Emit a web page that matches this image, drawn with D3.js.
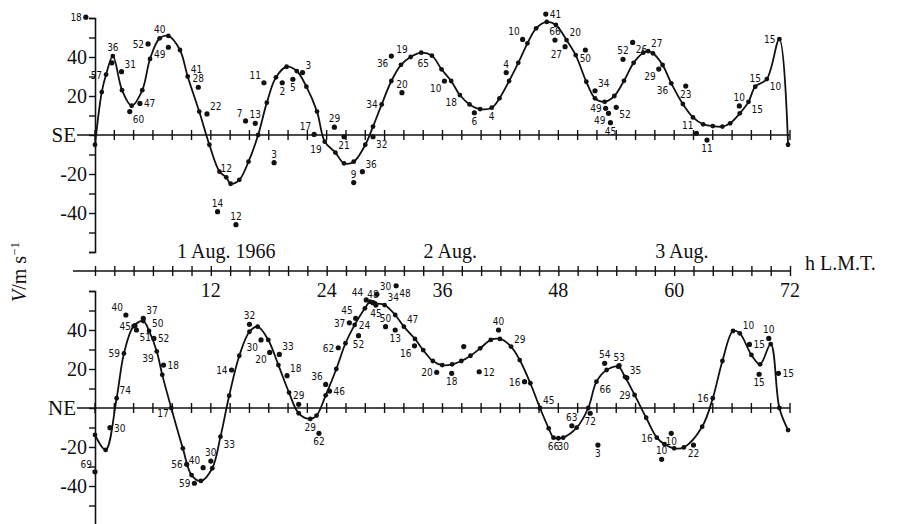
<!DOCTYPE html>
<html>
<head>
<meta charset="utf-8">
<script src="https://cdn.jsdelivr.net/npm/d3@7/dist/d3.min.js"></script>
<style>
body { margin: 0; background: #fff; }
svg { display: block; }
.serif { font-family: "Liberation Serif", "DejaVu Serif", serif; fill: #111; }
.lab { font-family: "DejaVu Sans Condensed", "Liberation Sans Narrow", sans-serif; font-size: 10px; fill: #111; }
</style>
</head>
<body>
<svg width="905" height="524"></svg>
<script>
// hourly curve, SE component
var seCurveHour = [0,0.7,1.15,1.85,2.8,3.8,4.9,5.7,6.7,7.6,8.8,9.6,10.8,11.85,12.9,13.6,14.05,14.95,15.9,16.9,17.8,18.75,19.85,20.9,21.9,23,23.8,24.9,25.8,26.8,28,28.8,29.7,30.7,31.7,32.7,33.8,34.9,35.9,36.9,37.8,38.8,39.9,41.1,41.9,42.9,43.85,44.8,45.7,46.8,47.75,48.85,49.8,50.9,51.8,52.8,53.8,54.8,55.8,56.8,57.3,57.8,58.8,59.7,60.9,61.95,63,64,65,65.8,66.8,67.7,68.4,69.6,70.9,71.8];
var seCurveValue = [-5,22,31,40.5,23,15,23,39,49.6,50.8,43.6,30,12,-5,-18.8,-21.7,-25,-23,-13.7,0,16.6,29.6,35,32.8,24.8,12,-3.4,-9,-14.5,-13.7,-5,4.3,15.7,27.7,36,40,42.2,40.7,33.7,27.7,20.5,15.7,13.3,14,18.8,27.7,37,47,54.7,58,56.4,48.7,41,27.3,18.8,17,20,27.8,37,42.2,43,41.9,35.9,26.5,15.9,9,5.5,4.6,4.3,6,11.1,17,24.8,28.7,49.2,-5];

// individual observations, SE
var seObsHour  = [-0.95,1.75,2.75,3.6,4.65,5.5,7.6,10.7,11.6,15.6,16.6,17.5,19.4,20.5,21.5,22.7,24.8,25.8,28.8,27.7,26.8,18.55,12.7,14.6,30.7,31.8,36.2,39.3,42.6,44.3,46.7,47.65,48.7,50.8,51.8,52.9,53.2,54,53.4,54.7,55.7,58.4,61.2,62.3,63.4,66.75];
var seObsValue = [60.4,37,32.5,12,16.2,46.7,45,24.5,10.8,7.2,6,26.8,26.8,28.6,32,0.3,4,-0.9,-0.9,-18.8,-24.4,-14.2,-39.3,-46,40.5,21.7,27.7,11.4,32,49,62,48.7,45.3,43.6,22.7,13.7,11.1,14.2,6.3,38.8,47.5,33.8,25.1,0.9,-2.6,14.9];
var seObsLabel = ["18","","31","60","47","52","49","28","22","7","13","11","2","5","3","17","29","21","32","36","9","3","14","12","36","20","10","6","4","10","41","66","27","50","34","49","49","52","45","52","26","29","23","11","11","10"];
var seObsSide  = ["w","","ne","se","e","w","sw","n","ne","nw","n","nw","s","s","ne","nw","n","s","se","ne","n","n","n","n","sw","n","sw","s","n","nw","e","n","sw","s","ne","w","sw","se","s","n","se","sw","s","nw","s","n"];
// labels written against points of the SE curve
var seCurveLabelHour = [1.15,1.85,6.7,9.6,13.6,23.8,29.7,32.7,34.9,37.8,41.1,48.85,57.3,59.7,67.7,68.4,69.6,70.9];
var seCurveLabel     = ["57","36","40","41","12","19","34","19","65","18","4","20","27","36","15","15","10","15"];
var seCurveLabelSide = ["w","n","n","ne","n","sw","w","nw","sw","sw","s","ne","ne","sw","se","n","se","w"];

// hourly curve, NE component
var neCurveHour = [0,1.1,2.24,3,4,5,5.6,6.4,6.97,7.9,9.1,10,10.97,12.15,13,13.9,14.95,16,16.85,17.95,19,20.1,21.1,22.3,22.95,23.9,25,25.95,26.9,27.96,28.5,29,30,31.1,32,33.15,34,35,35.97,37,37.95,38.9,39.9,41,41.95,43.1,44,45.1,46.1,47,47.5,48,48.5,49.9,51.1,51.95,53,54.2,54.9,55.9,57.1,58.2,59,60,61,62.9,64,65,66.1,66.8,68,68.9,70,70.9,71.8];
var neCurveValue = [-13.8,-21.5,5,28,42,44.6,39.5,29,17,0,-20.7,-34.4,-37.4,-30.9,-14.7,6.3,26.8,39.1,41.7,34.9,22,7.9,-2.7,-5.6,-3.9,6.5,20,33.2,42.6,51.1,54.5,53.7,52.8,47.7,41.7,35.4,29.7,24.1,22,22.4,24.1,26.8,30.6,34.9,35.4,31.5,24.6,12.7,0,-10.4,-15.2,-15.5,-15.2,-10.1,0,13.5,19.5,21.2,16,6.7,-5,-15.2,-18.6,-20.7,-20.2,-9.6,5,24.1,39.5,38.3,27.2,22.4,32.8,0,-11.3];

// individual observations, NE
var neObsHour  = [0,1.55,3.2,4.14,5,4.3,6.1,7.1,9.5,11.2,10.3,12,14.15,16,17.2,18.1,19.1,19.9,21.1,23.2,24.3,23.9,25.2,27.3,26.35,27,28.1,28.8,29.2,31.2,29.1,30.1,31.1,33.1,38.2,35.4,36.95,39.8,41.8,44.5,49.4,51.3,52.1,52.8,54.3,55.1,59.7,58.7,62,67.8,69.8,68.8,70.8];
var neObsValue = [-32.7,-10.1,47.7,42.2,46,40,35.7,22,-28.9,-30.6,-38.6,-27.2,19.5,42.9,34.9,28.5,27.5,16.6,1.9,-13,8.7,12.1,30.9,37.1,43.7,46,55.4,54,58.3,62.7,52.8,41.7,40,31.9,31.5,18.3,17.8,18.6,40,13.5,-9.1,-2.7,-19,22.9,21.7,15.5,-13,-26.3,-19,32.6,35.7,17.3,17.8];
var neObsLabel = ["69","30","40","45","37","51","52","18","56","40","59","30","14","32","30","20","33","18","29","62","46","36","62","52","37","45","44","48","30","48","45","50","13","16","","20","18","12","40","16","63","72","3","54","53","35","10","10","22","15","10","15","15"];
var neObsSide  = ["nw","e","nw","w","ne","se","e","e","w","nw","w","n","w","n","sw","sw","ne","ne","n","s","e","nw","w","s","w","nw","nw","n","ne","se","s","n","s","sw","","w","s","e","n","w","n","s","s","n","n","ne","s","n","s","e","n","s","e"];
var neCurveLabelHour = [2.24,3,5.6,6.4,8.05,13,22.3,26.9,30,32,43.1,46.1,47.5,48.5,51.95,55.9,58.2,64,66.8];
var neCurveLabel     = ["74","59","50","39","17","33","29","24","34","47","29","45","66","30","66","29","16","16","10"];
var neCurveLabelSide = ["ne","w","ne","sw","w","se","s","e","ne","ne","ne","ne","s","s","se","w","w","w","ne"];

var timeTicks = [12,24,36,48,60,72];
var dayLabels = ["1 Aug. 1966","2 Aug.","3 Aug."];
var dayCentreHour = [13.6,36.8,60.8];
var valueTicks = [-40,-20,20,40];

var svg = d3.select("svg");
var x = d3.scaleLinear().domain([0,72]).range([95,790]);
var ySE = d3.scaleLinear().domain([-60,60]).range([252,18]);
var yNE = d3.scaleLinear().domain([-60,60]).range([525,291]);

var offs = {
  n:[0,-5,"middle"], s:[0,12,"middle"], e:[4,4,"start"], w:[-4,4,"end"],
  ne:[3,-4,"start"], nw:[-3,-4,"end"], se:[3,11,"start"], sw:[-3,11,"end"], "":[0,0,"middle"]
};

function panel(y, name, cH, cV, oH, oV, oL, oS, lH, lL, lS) {
  // vertical value axis
  var ya = svg.append("g").attr("transform","translate(95,0)")
    .call(d3.axisLeft(y).tickValues(d3.range(-60,61,10)).tickSize(6).tickFormat(""));
  ya.select(".domain").attr("stroke","#111").attr("stroke-width",1.6);
  ya.selectAll(".tick line").attr("stroke","#111").attr("stroke-width",1.4);
  svg.append("g").selectAll("text").data(valueTicks).enter().append("text")
    .attr("class","serif").attr("x",87).attr("y",function(d){ return y(d)+7; })
    .attr("text-anchor","end").style("font-size","20px")
    .text(function(d){ return d < 0 ? "-" + Math.abs(d) : d; });
  svg.append("text").attr("class","serif").attr("x",76).attr("y",y(0)+7)
    .attr("text-anchor","end").style("font-size","21px").text(name);

  // zero line with two-hour ticks
  svg.append("line").attr("x1",77).attr("x2",x(72)).attr("y1",y(0)).attr("y2",y(0))
    .attr("stroke","#111").attr("stroke-width",1.6);
  svg.append("g").selectAll("line").data(d3.range(0,73,2)).enter().append("line")
    .attr("x1",function(d){ return x(d); }).attr("x2",function(d){ return x(d); })
    .attr("y1",y(0)-5).attr("y2",y(0)+5).attr("stroke","#111").attr("stroke-width",1.4);

  // smoothed curve
  var line = d3.line().x(function(d){ return x(d[0]); }).y(function(d){ return y(d[1]); })
    .curve(d3.curveCatmullRom.alpha(0.5));
  svg.append("path").datum(d3.zip(cH,cV)).attr("d",line)
    .attr("fill","none").attr("stroke","#111").attr("stroke-width",1.8);
  svg.append("g").selectAll("circle").data(d3.zip(cH,cV)).enter().append("circle")
    .attr("cx",function(d){ return x(d[0]); }).attr("cy",function(d){ return y(d[1]); })
    .attr("r",2.4).attr("fill","#111");

  // single observations
  var obs = oH.map(function(h,i){ return {h:h, v:oV[i], t:oL[i], s:oS[i]}; });
  svg.append("g").selectAll("circle").data(obs).enter().append("circle")
    .attr("cx",function(d){ return x(d.h); }).attr("cy",function(d){ return y(d.v); })
    .attr("r",2.6).attr("fill","#111");
  svg.append("g").selectAll("text").data(obs).enter().append("text")
    .attr("class","lab")
    .attr("x",function(d){ return x(d.h) + offs[d.s][0]; })
    .attr("y",function(d){ return y(d.v) + offs[d.s][1]; })
    .attr("text-anchor",function(d){ return offs[d.s][2]; })
    .text(function(d){ return d.t; });

  // labels placed on curve points
  var cl = lH.map(function(h,i){
    var v = d3.scaleLinear().domain(cH).range(cV)(h);
    return {h:h, v:v, t:lL[i], s:lS[i]};
  });
  svg.append("g").selectAll("text").data(cl).enter().append("text")
    .attr("class","lab")
    .attr("x",function(d){ return x(d.h) + offs[d.s][0]; })
    .attr("y",function(d){ return y(d.v) + offs[d.s][1]; })
    .attr("text-anchor",function(d){ return offs[d.s][2]; })
    .text(function(d){ return d.t; });
}

panel(ySE,"SE",seCurveHour,seCurveValue,seObsHour,seObsValue,seObsLabel,seObsSide,seCurveLabelHour,seCurveLabel,seCurveLabelSide);
panel(yNE,"NE",neCurveHour,neCurveValue,neObsHour,neObsValue,neObsLabel,neObsSide,neCurveLabelHour,neCurveLabel,neCurveLabelSide);

// shared time axis
var tY = 271;
svg.append("line").attr("x1",73).attr("x2",x(72)).attr("y1",tY).attr("y2",tY)
  .attr("stroke","#111").attr("stroke-width",1.6);
var ta = svg.append("g").attr("transform","translate(0," + (tY-5) + ")")
  .call(d3.axisBottom(x).tickValues(d3.range(0,73,2)).tickSize(10).tickFormat(""));
ta.select(".domain").remove();
ta.selectAll(".tick line").attr("stroke","#111").attr("stroke-width",1.4);
svg.append("g").selectAll("text").data(timeTicks).enter().append("text")
  .attr("class","serif").attr("x",function(d){ return x(d); }).attr("y",297)
  .attr("text-anchor","middle").style("font-size","20px").text(function(d){ return d; });
svg.append("g").selectAll("text").data(dayLabels).enter().append("text")
  .attr("class","serif").attr("x",function(d,i){ return x(dayCentreHour[i]); }).attr("y",258)
  .attr("text-anchor","middle").style("font-size","20px").text(function(d){ return d; });
svg.append("text").attr("class","serif").attr("x",805).attr("y",270)
  .style("font-size","20px").text("h  L.M.T.");

// value axis title
var yt = svg.append("text").attr("class","serif")
  .attr("transform","translate(26,272) rotate(-90)").attr("text-anchor","middle")
  .style("font-size","20px");
yt.append("tspan").style("font-style","italic").text("V");
yt.append("tspan").text("/m s");
yt.append("tspan").attr("dy",-7).style("font-size","13px").text("−1");
</script>
</body>
</html>
